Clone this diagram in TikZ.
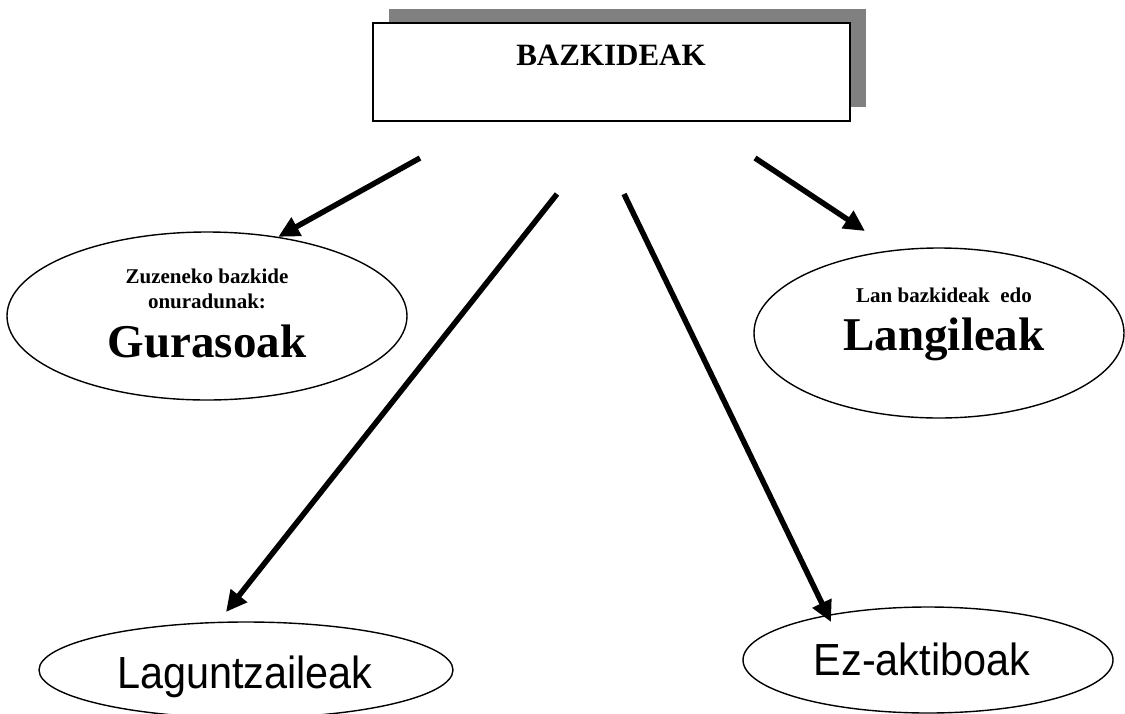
\documentclass[tikz,border=0pt]{standalone}
\usepackage{fontspec}
\setmainfont{Liberation Serif}
\setsansfont{Liberation Sans}
\usepackage{tikz}
\usetikzlibrary{positioning}
\usetikzlibrary{shapes.geometric}
\usetikzlibrary{shadows}
\usetikzlibrary{arrows.meta}

\begin{document}
\begin{tikzpicture}[x=1pt,y=-1pt]

                \def\w{5.5pt}

                % Styles for the box, the ellipses, the texts and the arrows
                \tikzset{
                    topbox/.style={draw, line width=1.8pt, fill=white,
                        minimum width=477pt, minimum height=98pt,
                        general shadow={fill=gray, shadow xshift=16pt, shadow yshift=14pt}},
                    oval/.style={draw, ellipse, line width=1.4pt, inner sep=0pt},
                    title/.style={font=\bfseries\fontsize{31}{36}\selectfont, anchor=base, inner sep=0pt},
                    small/.style={font=\bfseries\fontsize{21}{25}\selectfont, anchor=base, inner sep=0pt},
                    big/.style={font=\bfseries\fontsize{47}{52}\selectfont, anchor=base, inner sep=0pt},
                    plain/.style={font=\sffamily\fontsize{45}{50}\selectfont, anchor=base, inner sep=0pt},
                    arr/.style={line width=\w, -{Triangle[length=21pt,width=20pt]}}
                }

                \useasboundingbox (0,0) rectangle (1125,713);

                % Box on top
                \node[topbox] (bazk) at (611.5,72) {};
                \node[title] (bazk-t) at (611,65) {BAZKIDEAK};

                % Ellipses
                \node[oval, minimum width=400pt, minimum height=168pt] (guraso) at (207,316) {};
                \node[oval, minimum width=370pt, minimum height=170pt] (langile) at (939,333) {};
                \node[oval, minimum width=414pt, minimum height=96pt] (lagun) at (246,670) {};
                \node[oval, minimum width=370pt, minimum height=106pt] (ezakt) at (928,660) {};

                % Texts in the ellipses
                \node[small] (guraso-1) at (207,283) {Zuzeneko bazkide};
                \node[small] (guraso-2) at (207,308) {onuradunak:};
                \node[big] (guraso-t) at (207,357) {Gurasoak};
                \node[small] (langile-1) at (944,302) {Lan bazkideak\ \ edo};
                \node[big] (langile-t) at (944,350) {Langileak};
                \node[plain] (lagun-t) at (245,688) {\scalebox{0.92}[1]{Laguntzaileak}};
                \node[plain] (ezakt-t) at (922,675) {\scalebox{0.92}[1]{Ez-aktiboak}};

                % Ends of the arrows
                \coordinate (a1) at (420,158);
                \coordinate (a2) at (557,194);
                \coordinate (a3) at (624,194);
                \coordinate (a4) at (755,158);
                \coordinate (lagun-in) at (226,612);
                \coordinate (ezakt-in) at (831,622);
                \coordinate (langile-in) at (865,231);

                \begin{scope}
                    \draw[arr] (a1) -- (guraso.48);
                    \draw[arr] (a2) -- (lagun-in);
                    \draw[arr] (a3) -- (ezakt-in);
                    \draw[arr] (a4) -- (langile-in);
                \end{scope}

                \end{tikzpicture}
\end{document}
